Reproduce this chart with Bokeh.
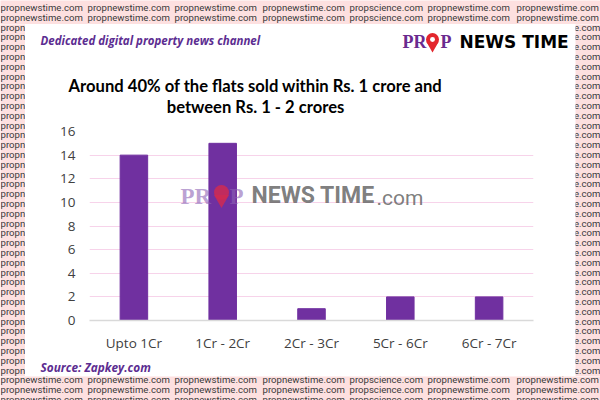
from bokeh.plotting import figure
from bokeh.models import Label, FactorRange, Range1d, FixedTicker, ColumnDataSource
from bokeh.layouts import row, column
from bokeh.core.properties import value
from bokeh.embed import file_html
from bokeh.resources import INLINE

# ---- data ----
categories = ["Upto 1Cr", "1Cr - 2Cr", "2Cr - 3Cr", "5Cr - 6Cr", "6Cr - 7Cr"]
flats_sold = [14, 15, 1, 2, 2]
y_ticks = [0, 2, 4, 6, 8, 10, 12, 14, 16]
title_lines = ["Around 40% of the flats sold within Rs. 1 crore and",
               "between Rs. 1 - 2 crores"]
tagline = "Dedicated digital property news channel"
source_note = "Source: Zapkey.com"
bg_words = ["propnewstime.com", "propnewstime.com", "propnewstime.com",
            "propnewstime.com", "propscience.com", "propnewstime.com",
            "propnewstime.com"]

PURPLE = "#7030a0"
TXT_PURPLE = "#5c2d91"
PINK_BG = "#fde0e0"
BG_TXT = "#3a3a3a"
BG_FONT = value("Roboto")
BG_SIZE = value("9.6px")

# page geometry
PANEL_L, PANEL_R, PANEL_T, PANEL_B = 25, 575, 24, 376
PAGE_W, PAGE_H = 600, 400
word_x = [0, 87, 174, 262, 349, 427, 516]
row_y = [7 + 9.8 * k for k in range(41)]


def deco_fig(w, h, fill):
    f = figure(width=w, height=h, x_range=Range1d(0, w), y_range=Range1d(h, 0),
               output_backend="svg", toolbar_location=None, min_border=0,
               x_axis_location=None, y_axis_location=None, title=None)
    f.background_fill_color = fill
    f.border_fill_color = fill
    f.outline_line_color = None
    f.grid.visible = False
    return f


def bg_band(top, h):
    f = deco_fig(PAGE_W, h, PINK_BG)
    xs, ys, ts = [], [], []
    for yy in row_y:
        if top - 6 <= yy <= top + h + 6:
            for wx, wd in zip(word_x, bg_words):
                xs.append(wx); ys.append(yy - top); ts.append(wd)
    f.text(x="x", y="y", text="t", source=ColumnDataSource(dict(x=xs, y=ys, t=ts)),
           text_font=BG_FONT, text_font_size=BG_SIZE, text_color=BG_TXT,
           text_baseline="middle", text_align="left")
    return f


def side_strip(right_side):
    w, h = PANEL_L, PANEL_B - PANEL_T
    f = deco_fig(w, h, PINK_BG)
    ys = [yy - PANEL_T for yy in row_y if PANEL_T - 6 <= yy <= PANEL_B + 6]
    xs = [w if right_side else 0] * len(ys)
    ts = [bg_words[-1] if right_side else bg_words[0]] * len(ys)
    f.text(x="x", y="y", text="t", source=ColumnDataSource(dict(x=xs, y=ys, t=ts)),
           text_font=BG_FONT, text_font_size=BG_SIZE, text_color=BG_TXT,
           text_baseline="middle", text_align="right" if right_side else "left")
    return f


def txt(f, x, y, s, size, color, style="normal", font="Open Sans", align="left", alpha=1.0):
    f.text(x=[x], y=[y], text=[s], text_font=value(font), text_font_size=value(f"{size}px"),
           text_color=color, text_font_style=style, text_align=align,
           text_baseline="middle", text_alpha=alpha)


def pin(f, cx, cy, r, color, alpha=1.0, hole="white"):
    f.scatter(x=[cx], y=[cy + r * 0.9], marker="inverted_triangle", size=r * 1.9,
              fill_color=color, line_color=None, fill_alpha=alpha)
    f.circle(x=[cx], y=[cy], radius=r, fill_color=color, line_color=None, fill_alpha=alpha)
    f.circle(x=[cx], y=[cy], radius=r * 0.38, fill_color=hole, line_color=None)


# ---- header (inside the white panel) ----
HDR_T, HDR_B = PANEL_T, 118
hdr = deco_fig(PANEL_R - PANEL_L, HDR_B - HDR_T, "white")
ox, oy = PANEL_L, HDR_T
txt(hdr, 40 - ox, 40 - oy, tagline, 11.5, TXT_PURPLE, style="bold italic")
txt(hdr, 255 - ox, 85 - oy, title_lines[0], 16.6, "black", style="bold", font="Lato", align="center")
txt(hdr, 255 - ox, 106 - oy, title_lines[1], 16.6, "black", style="bold", font="Lato", align="center")
txt(hdr, 402 - ox, 41 - oy, "PR", 18, "#6a2a8f", style="bold", font="Liberation Serif")
pin(hdr, 432 - ox, 39 - oy, 6.5, "#e3262d")
txt(hdr, 440 - ox, 41 - oy, "P", 18, "#6a2a8f", style="bold", font="Liberation Serif")
txt(hdr, 459 - ox, 41 - oy, "NEWS TIME", 17, "black", style="bold", font="DejaVu Sans")

# ---- chart ----
CH_T, CH_B = HDR_B, 355
FR_L, FR_R, FR_T, FR_B = 89, 533, 131, 320
p = figure(width=PANEL_R - PANEL_L, height=CH_B - CH_T,
           x_range=FactorRange(*categories), y_range=Range1d(0, 16),
           output_backend="svg", toolbar_location=None, title=None,
           min_border_left=FR_L - PANEL_L, min_border_right=PANEL_R - FR_R,
           min_border_top=FR_T - CH_T, min_border_bottom=CH_B - FR_B)
p.border_fill_color = "white"
p.background_fill_color = "white"
p.outline_line_color = None

p.vbar(x=categories, top=flats_sold, width=0.31, color=PURPLE)

p.xgrid.visible = False
p.ygrid.grid_line_color = "#f7d3ea"
p.ygrid.grid_line_width = 1
p.yaxis.ticker = FixedTicker(ticks=y_ticks)
p.yaxis.axis_line_color = None
p.yaxis.major_tick_line_color = None
p.yaxis.minor_tick_line_color = None
p.yaxis.major_label_standoff = 8
p.yaxis.major_label_text_font = "Open Sans"
p.yaxis.major_label_text_font_size = "13.5px"
p.yaxis.major_label_text_color = "#404040"
p.xaxis.axis_line_color = "#d9d9d9"
p.xaxis.axis_line_width = 1.5
p.xaxis.major_tick_line_color = None
p.xaxis.minor_tick_line_color = None
p.xaxis.major_label_standoff = 7
p.xaxis.major_label_text_font = "Open Sans"
p.xaxis.major_label_text_font_size = "13.5px"
p.xaxis.major_label_text_color = "#404040"


def wm(x, y, s, size, color, style="normal", font="Roboto", alpha=1.0):
    p.add_layout(Label(x=x - FR_L, y=FR_B - y, x_units="screen", y_units="screen",
                       text=s, text_font_size=f"{size}px", text_color=color,
                       text_font_style=style, text_font=font, text_baseline="middle",
                       text_alpha=alpha))


# centre watermark
wm(180, 196, "PR", 23, "#8e63b5", style="bold", font="Liberation Serif", alpha=0.6)
wm(229, 196, "P", 23, "#8e63b5", style="bold", font="Liberation Serif", alpha=0.6)
wm(251, 195, "NEWS TIME", 23, "#6e6e6e", style="bold", alpha=0.9)
wm(376, 197, ".com", 21, "#6e6e6e", alpha=0.9)
# pin of the watermark drawn in the frame's synthetic coordinates
px_per_x = (FR_R - FR_L) / len(categories)
px_per_y = (FR_B - FR_T) / 16.0
pcx = (221 - FR_L) / px_per_x
pcy = (FR_B - 192) / px_per_y
pr_y = 7.5 / px_per_y
p.scatter(x=[pcx], y=[pcy - pr_y * 0.9], marker="inverted_triangle", size=15,
          fill_color="#cf2a52", line_color=None, fill_alpha=0.85)
p.ellipse(x=[pcx], y=[pcy], width=15 / px_per_x, height=15 / px_per_y,
          fill_color="#cf2a52", line_color=None, fill_alpha=0.85)

# ---- footer ----
FT_T, FT_B = CH_B, PANEL_B
ftr = deco_fig(PANEL_R - PANEL_L, FT_B - FT_T, "white")
txt(ftr, 40 - PANEL_L, 366 - FT_T, source_note, 11.8, TXT_PURPLE, style="bold italic")

layout = column(
    bg_band(0, PANEL_T),
    row(side_strip(False),
        column(column(hdr), column(p), column(ftr)),
        side_strip(True)),
    bg_band(PANEL_B, PAGE_H - PANEL_B),
)

open("out.html", "w").write(file_html(layout, INLINE))
